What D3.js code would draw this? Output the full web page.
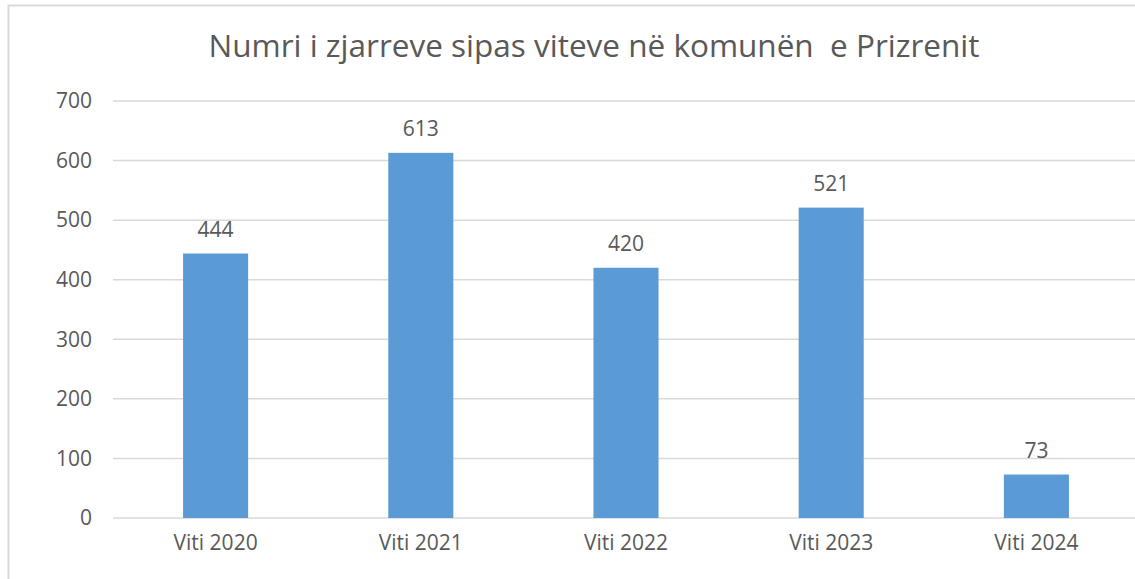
<!DOCTYPE html>
<html>
<head>
<meta charset="utf-8">
<script src="https://cdn.jsdelivr.net/npm/d3@7"></script>
<style>
  html, body { margin: 0; padding: 0; background: #fff; }
  svg { display: block; }
  text { font-family: "Open Sans", sans-serif; fill: #595959; }
</style>
</head>
<body>
<svg id="chart" width="1135" height="579"></svg>
<script>
// Fires per year in the municipality of Prizren
const categories = ["Viti 2020", "Viti 2021", "Viti 2022", "Viti 2023", "Viti 2024"];
const fires = [444, 613, 420, 521, 73];
const yTicks = [0, 100, 200, 300, 400, 500, 600, 700];
const title = "Numri i zjarreve sipas viteve në komunën  e Prizrenit";

const FONT = "'Open Sans', sans-serif";
const svg = d3.select("#chart");
const plot = { left: 113, right: 1139, top: 101, bottom: 518 };

// chart frame
svg.append("rect")
  .attr("x", 8.5).attr("y", 5.5)
  .attr("width", 1200).attr("height", 700)
  .attr("fill", "none").attr("stroke", "#d9d9d9").attr("stroke-width", 2);

const x = d3.scaleBand()
  .domain(categories)
  .range([plot.left, plot.right])
  .paddingInner(0.683)
  .paddingOuter(0.683 / 2);

const y = d3.scaleLinear()
  .domain([0, 700])
  .range([plot.bottom, plot.top]);

// horizontal gridlines
svg.append("g")
  .selectAll("line")
  .data(yTicks)
  .join("line")
  .attr("x1", plot.left).attr("x2", 1135)
  .attr("y1", d => y(d)).attr("y2", d => y(d))
  .attr("stroke", "#d9d9d9").attr("stroke-width", 1.5);

// y axis labels
const yAxis = d3.axisLeft(y).tickValues(yTicks).tickSize(0).tickPadding(0);
const gy = svg.append("g").attr("transform", `translate(92,0)`).call(yAxis);
gy.select(".domain").remove();
gy.selectAll("text")
  .attr("font-size", 21).attr("fill", "#595959")
  .style("font-family", FONT);

// x axis labels
const xAxis = d3.axisBottom(x).tickSize(0).tickPadding(0);
const gx = svg.append("g").attr("transform", `translate(0,${plot.bottom + 17})`).call(xAxis);
gx.select(".domain").remove();
gx.selectAll("text")
  .attr("font-size", 21).attr("fill", "#595959")
  .style("font-family", FONT);

// bars
svg.append("g")
  .selectAll("rect")
  .data(fires)
  .join("rect")
  .attr("x", (d, i) => x(categories[i]))
  .attr("width", x.bandwidth())
  .attr("y", d => y(d))
  .attr("height", d => y(0) - y(d))
  .attr("fill", "#5b9bd5");

// value labels
svg.append("g")
  .selectAll("text")
  .data(fires)
  .join("text")
  .attr("x", (d, i) => x(categories[i]) + x.bandwidth() / 2)
  .attr("y", d => y(d) - 17)
  .attr("text-anchor", "middle")
  .attr("font-size", 21)
  .style("font-family", FONT)
  .text(d => d);

// title
svg.append("text")
  .attr("x", 594).attr("y", 57)
  .attr("text-anchor", "middle")
  .attr("font-size", 31.5)
  .style("font-family", FONT)
  .style("white-space", "pre")
  .attr("xml:space", "preserve")
  .text(title);
</script>
</body>
</html>
